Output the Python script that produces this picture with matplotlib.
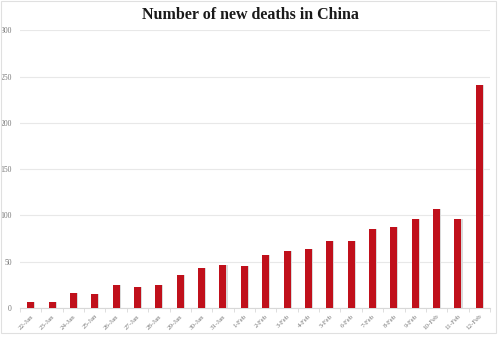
import matplotlib
matplotlib.use('Agg')
import matplotlib.pyplot as plt
from matplotlib.patches import Rectangle
import numpy as np

plt.rcParams['font.family'] = ['Liberation Serif', 'DejaVu Serif']

# data
dates = ['22-Jan', '23-Jan', '24-Jan', '25-Jan', '26-Jan', '27-Jan', '28-Jan',
         '29-Jan', '30-Jan', '31-Jan', '1-Feb', '2-Feb', '3-Feb', '4-Feb',
         '5-Feb', '6-Feb', '7-Feb', '8-Feb', '9-Feb', '10-Feb', '11-Feb', '12-Feb']
new_deaths = [7, 7, 16, 15, 25, 23, 25, 36, 43, 46, 45, 57, 62, 64,
              72, 72, 85, 88, 96, 107, 96, 241]

RED = '#C0101B'
GRID = '#E8E8E8'
TXT = '#777777'

fig = plt.figure(figsize=(5.03, 3.43), dpi=100)
ax = fig.add_axes([20/503, 1 - 308/343, 470/503, (308 - 30.3)/343])

x = np.arange(len(dates))
# soft drop shadow, then the bars
ax.bar(x + 0.05, new_deaths, width=0.33, color='#DADADA', zorder=2)
ax.bar(x, new_deaths, width=0.33, color=RED, zorder=3)

ax.set_xlim(-0.5, len(dates) - 0.5)
ax.set_ylim(0, 300)
ax.set_yticks(range(0, 301, 50))
ax.yaxis.grid(True, color=GRID, lw=0.8)
ax.set_axisbelow(True)
for s in ['top', 'right', 'left']:
    ax.spines[s].set_visible(False)
ax.spines['bottom'].set_color('#D8D8D8')
ax.spines['bottom'].set_linewidth(0.8)

ax.set_xticks(x)
ax.set_xticklabels(dates, rotation=45, ha='right', rotation_mode='anchor',
                   fontsize=5, color=TXT)
ax.tick_params(axis='x', length=0, pad=4)
ax.set_xticks(np.arange(-0.5, len(dates), 1), minor=True)
ax.tick_params(axis='x', which='minor', length=3, color='#D8D8D8', width=0.6)
ax.tick_params(axis='y', length=0, labelsize=5.5, labelcolor=TXT, pad=6)

fig.text(0.497, 1 - 15/343, 'Number of new deaths in China', ha='center', va='center',
         fontsize=11.5, fontweight='bold', color='#1a1a1a')

# light frame around the chart
fig.patches.append(Rectangle((0.001, 1 - 333/343), 495/503, 333/343 - 0.002,
                             transform=fig.transFigure, fill=False,
                             ec='#E0E0E0', lw=0.8))

fig.savefig('out.png', dpi=100)
plt.close(fig)
